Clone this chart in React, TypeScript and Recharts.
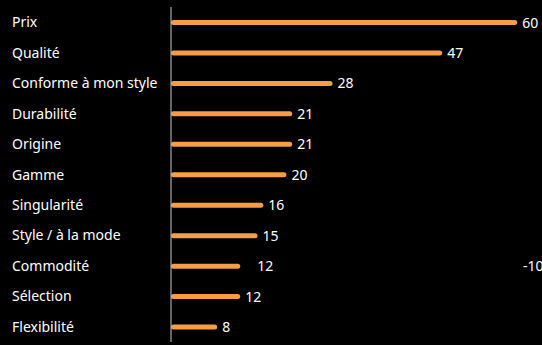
import React from 'react';
import { BarChart, Bar, XAxis, YAxis, LabelList } from 'recharts';

const categories = [
  'Prix',
  'Qualité',
  'Conforme à mon style',
  'Durabilité',
  'Origine',
  'Gamme',
  'Singularité',
  'Style / à la mode',
  'Commodité',
  'Sélection',
  'Flexibilité',
];
const values = [60, 47, 28, 21, 21, 20, 16, 15, 12, 12, 8];
// stray annotation seen next to one row in the source
const notes: Record<string, string> = { 'Commodité': '-10' };

const data = categories.map((name, i) => ({ name, value: values[i] }));

const FONT = '"Noto Sans", Lato, sans-serif';
const ORANGE = '#F89C46';

const CategoryTick = (props: any) => {
  const { y, payload } = props;
  return (
    <text x={12} y={y} dy={5} fill="#fff" fontSize={14} fontFamily={FONT} textAnchor="start">
      {payload.value}
    </text>
  );
};

const ValueLabel = (props: any) => {
  const { x, y, width, height, value, index } = props;
  const name = categories[index];
  const gap = name === 'Commodité' ? 17 : 5;
  const cy = y + height / 2 + 5;
  return (
    <g>
      <text x={x + width + gap} y={cy} fill="#fff" fontSize={14} fontFamily={FONT}>
        {value}
      </text>
      {notes[name] && (
        <text x={523} y={cy} fill="#fff" fontSize={14} fontFamily={FONT}>
          {notes[name]}
        </text>
      )}
    </g>
  );
};

export default function App() {
  return (
    <div style={{ position: 'absolute', left: 0, top: 0, width: 542, height: 345, background: '#000', overflow: 'hidden' }}>
      <BarChart
        width={542}
        height={345}
        data={data}
        layout="vertical"
        margin={{ top: 7, right: 0, bottom: 3, left: 0 }}
      >
        <XAxis type="number" domain={[0, 64.3]} hide />
        <YAxis
          type="category"
          dataKey="name"
          width={171}
          tickLine={false}
          axisLine={{ stroke: '#c8c8c8', strokeWidth: 1 }}
          tick={<CategoryTick />}
          interval={0}
        />
        <Bar dataKey="value" fill={ORANGE} barSize={5} radius={2.5} isAnimationActive={false}>
          <LabelList dataKey="value" content={<ValueLabel />} />
        </Bar>
      </BarChart>
    </div>
  );
}
